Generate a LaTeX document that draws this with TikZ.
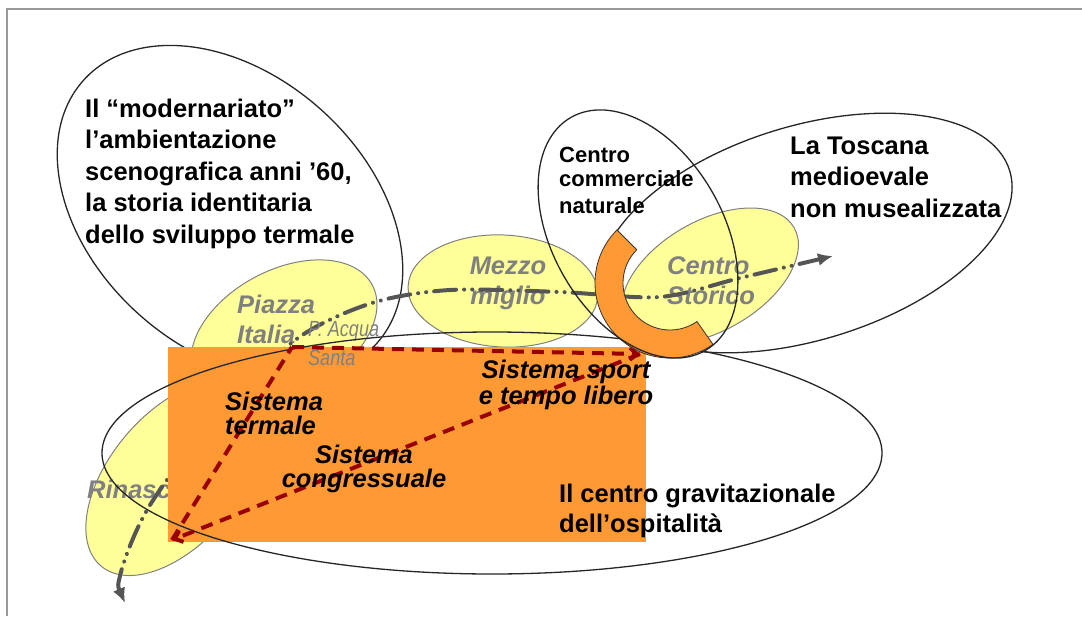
\documentclass[tikz,border=0pt]{standalone}
\usepackage{fontspec}
\setmainfont{Liberation Sans}
\newfontfamily\narrowfont[FakeStretch=0.82]{Liberation Sans}
\usetikzlibrary{arrows.meta,calc}
\definecolor{yel}{HTML}{FFFF99}
\definecolor{org}{HTML}{FF9933}
\definecolor{dred}{HTML}{990000}
\definecolor{txtgray}{HTML}{808080}
\definecolor{linegray}{HTML}{555555}
\definecolor{framegray}{HTML}{999999}
\begin{document}
\begin{tikzpicture}[x=1pt,y=-1pt,
  yell/.style={fill=yel, draw=txtgray, line width=1pt},
  ring/.style={draw=black!85, line width=1.3pt},
  blk/.style={inner sep=0pt, align=left, text=black, font=\fontsize{25.5}{31.5}\selectfont\bfseries},
  sist/.style={inner sep=0pt, text=black, font=\fontsize{25.5}{24}\selectfont\bfseries\itshape},
  place/.style={inner sep=0pt, text=txtgray, font=\fontsize{25.5}{30}\selectfont\bfseries\itshape},
  redline/.style={draw=dred, line width=4pt, dash pattern=on 12pt off 8pt},
  flow/.style={draw=linegray, line width=4pt, line cap=round,
    dash pattern=on 22pt off 8pt on 0.1pt off 8pt on 0.1pt off 8pt}]
\useasboundingbox (0,0) rectangle (1082,616);
% frame
\draw[framegray, line width=1.5pt] (7,616) -- (7,9) -- (1082,9);

% yellow areas
\draw[yell, rotate around={28:(284,332)}] (284,332) ellipse (100 and 62);
\draw[yell, rotate around={-3:(503,291)}] (503,291) ellipse (95 and 56);
\draw[yell, rotate around={30:(710,276)}] (710,276) ellipse (97 and 55);
\draw[yell, rotate around={50:(175,478)}] (175,478) ellipse (115 and 65);

\node[place, anchor=north west, align=left] (piazza) at (237,294.5) {Piazza\\Italia};
\node[place, anchor=north, align=center] (mezzo) at (508,256.4) {Mezzo\\miglio};
\node[place, anchor=north west, align=left] (storico) at (667,256.4) {Centro\\Storico};
\node[place, anchor=base west] (rinasc) at (87,498) {Rinascente};

% top-left ellipse (under the orange area)
\draw[ring, rotate around={-42:(230,212)}] (230,212) ellipse (197 and 137);

% flow line
\draw[flow, {Latex[length=15pt,width=13pt]}-{Latex[length=15pt,width=13pt]}]
  plot[smooth, tension=0.5] coordinates {(125,603) (121,572) (150,505) (220,412) (298,338) (372,303) (450,290) (560,292) (660,297) (740,278) (833,256)};

% orange area
\fill[org] (168,347) rectangle (646,542);
\node[inner sep=0pt, anchor=north west, align=left, text=txtgray, font=\narrowfont\fontsize{22}{29}\selectfont\itshape] (acqua) at (308,321) {P. Acqua\\Santa};

% gravitational ellipse
\draw[ring] (492,453) ellipse (390 and 121);

% triangle of systems
\coordinate (ta) at (292,347);
\coordinate (tb) at (640,354);
\coordinate (tc) at (172,540);
\draw[redline, -{Straight Barb[length=7pt,width=12pt]}] (ta) -- (tb);
\draw[redline, -{Straight Barb[length=7pt,width=12pt]}] (tb) -- (tc);
\draw[redline] (tc) -- (ta);

\node[sist, anchor=north west, align=left] (term) at (225,391.4) {Sistema\\termale};
\node[sist, anchor=north, align=center] (congr) at (364,444.4) {Sistema\\congressuale};
\node[sist, anchor=north, align=center, font=\fontsize{25.5}{26}\selectfont\bfseries\itshape] (sport) at (566,359.4) {Sistema sport\\e tempo libero};
\node[blk, anchor=north west, font=\fontsize{25.5}{30}\selectfont\bfseries] (grav) at (559,483.4) {Il centro gravitazionale\\dell’ospitalità};

% Toscana ellipse
\draw[ring, rotate around={17:(806,233)}] (806,233) ellipse (213 and 107);

% orange C
\coordinate (cc) at (670,283);
\draw[fill=org, draw=black!80, line width=0.8pt]
  ($(cc)+(225:75)$) arc[start angle=225, end angle=55, radius=75]
  -- ($(cc)+(55:47)$) arc[start angle=55, end angle=225, radius=47] -- cycle;

% commercial centre ellipse
\draw[ring, rotate around={-60:(638,234)}] (638,234) ellipse (134.5 and 85.3);

% texts
\node[blk, anchor=north west] (modern) at (85,98.5) {Il “modernariato”\\l’ambientazione\\scenografica anni ’60,\\la storia identitaria\\dello sviluppo termale};
\node[blk, anchor=north west] (toscana) at (790,136.5) {La Toscana\\medioevale\\non musealizzata};
\node[blk, anchor=north west, font=\fontsize{22}{24}\selectfont\bfseries] (comm) at (559,147) {Centro\\commerciale\\[3pt]naturale};
\end{tikzpicture}
\end{document}
